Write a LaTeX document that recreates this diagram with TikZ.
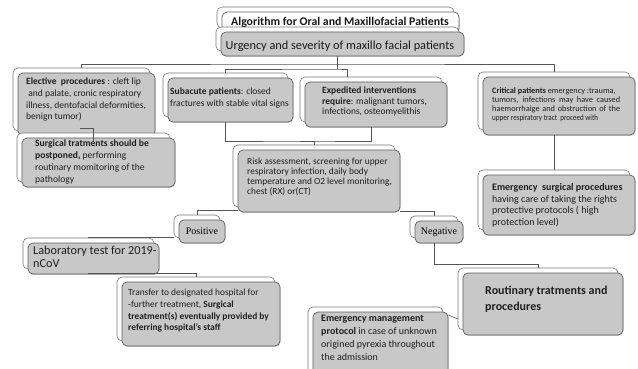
\documentclass[tikz,border=0pt]{standalone}
\usepackage{fontspec}
\usepackage{graphicx}
\setmainfont{Carlito}
\newfontfamily\timesf{Liberation Serif}
\usetikzlibrary{fit,calc,shadows}
\definecolor{boxgray}{RGB}{200,200,200}
\definecolor{edgegray}{RGB}{95,95,95}
\definecolor{backedge}{RGB}{120,120,120}
\definecolor{linegray}{RGB}{85,85,85}
\newcommand\twobox[6][]{%
  \node[backbox, fit={(#3-5,#4-5) (#5-5,#6-5)}] (#2b) {};
  \node[frontbox,#1, fit={(#3,#4) (#5,#6)}] (#2) {};
}
\begin{document}
\begin{tikzpicture}[x=1pt,y=-1pt,
 backbox/.style={draw=backedge, fill=white, rounded corners=5pt, line width=0.6pt, inner sep=0pt},
 frontbox/.style={draw=edgegray, fill=boxgray, rounded corners=5pt, line width=0.7pt, inner sep=0pt,
   drop shadow={shadow xshift=0.6pt, shadow yshift=-0.9pt, opacity=0.35}},
 conn/.style={draw=linegray, line width=0.6pt},
 txt/.style={anchor=north west, inner sep=0pt, align=left, text=black!88},
]
\useasboundingbox (0,0) rectangle (638,369);

% bus coordinates
\coordinate (busA) at (337,64);
\coordinate (busB) at (337,69);
\coordinate (busC) at (300,141);

% boxes
\twobox[fill=white]{tt}{222}{12}{459}{33}
\twobox{urg}{221}{32}{464}{56}
\twobox{el}{18}{73}{155}{136}
\twobox{sg}{22}{138}{175}{187}
\twobox{sb}{168}{78}{293}{122}
\twobox{ex}{305}{82}{447}{127}
\twobox{cr}{483}{77}{635}{135}
\twobox{es}{483}{175}{635}{235}
\twobox{rk}{238}{150}{400}{212}
\twobox{ps}{179}{220}{225}{243}
\twobox{ng}{415}{221}{463}{243}
\twobox{lb}{28}{243}{159}{274}
\twobox{tr}{122}{282}{280}{346}
\twobox{rt}{463}{273}{623}{335}
\twobox{em}{313}{312}{448}{382}

% connectors
\draw[conn] (urg.south -| busA) -- (busA);
\draw[conn] (elb.north) |- (busA) -| (crb.north);
\draw[conn] (busA) -- (busB);
\draw[conn] (sbb.north) |- (busB) -| (exb.north -| 347,0);
\draw[conn] (sb.south -| sbb.north) |- (busC) -| (ex.south -| exb.north);
\draw[conn] (busC) -| (rkb.north);
\draw[conn] (80,128) -| (sgb.north |- 0,142);
\draw[conn] (crb.south |- cr.south) -- (esb.north);
\draw[conn] (psb.north) |- (rk.west |- 0,210);
\draw[conn] (ngb.north) |- (rk.east |- 0,211);
\draw[conn] (psb.west |- 0,237) -| (lbb.north);
\draw[conn] (lb.south -| lbb.north) |- (0,273 -| trb.north) -- (trb.north);
\draw[conn] (ng.south -| ngb.north) |- (0,264 -| rtb.north) -- (rtb.north);
\draw[conn] (em.east |- 0,315) -- (rtb.west |- 0,319);

% texts
\node[font=\bfseries\fontsize{11.8}{14}\selectfont, text=black!90, inner sep=0pt] (ttx) at (340,22) {Algorithm for Oral and Maxillofacial Patients};
\node[font=\fontsize{12.3}{14}\selectfont, text=black!90, inner sep=0pt] (urgx) at (340,46) {Urgency and severity of maxillo facial patients};

\node[txt, font=\fontsize{9.5}{11.7}\selectfont] (elx) at (26,78) {\textbf{Elective\ \ procedures} : cleft lip\\\ and palate, cronic respiratory\\illness, dentofacial deformities,\\benign tumor)};
\node[txt, font=\fontsize{9.6}{11.7}\selectfont] (sgx) at (35,140) {\textbf{Surgical tratments should be}\\\textbf{postponed,} performing\\routinary momitoring of the\\pathology};
\node[txt, font=\fontsize{9.5}{12}\selectfont] (sbx) at (170,88) {\textbf{Subacute patients}: closed\\fractures with stable vital signs};
\node[txt, font=\fontsize{9.5}{10.3}\selectfont] (exx) at (322,87) {\textbf{Expedited interventions}\\\textbf{require}: malignant tumors,\\infections, osteomyelithis};
\node[txt, font=\fontsize{8.3}{9.3}\selectfont] (crx) at (492,87) {\textbf{Critical patients} emergency :trauma,\\\makebox[128pt][s]{tumors, infections may have caused}\\\makebox[128pt][s]{haemorrhaige and obstruction of the}\\\scalebox{0.85}[1]{upper respiratory tract\ \ proceed with}};
\node[txt, font=\fontsize{10}{11.8}\selectfont] (esx) at (492,183) {\textbf{Emergency\ \ surgical procedures}\\having care of taking the rights\\protective protocols ( high\\protection level)};
\node[txt, font=\fontsize{9.4}{10}\selectfont] (rkx) at (247,158) {Risk assessment, screening for upper\\respiratory infection, daily body\\temperature and O2 level monitoring,\\chest (RX) or(CT)};
\node[font=\timesf\fontsize{10}{12}\selectfont, inner sep=0pt] (psx) at (202,231) {Positive};
\node[font=\timesf\fontsize{10}{12}\selectfont, inner sep=0pt] (ngx) at (439,232) {Negative};
\node[txt, font=\fontsize{12.2}{13}\selectfont] (lbx) at (33,246) {Laboratory test for 2019-\\nCoV};
\node[txt, font=\fontsize{9.4}{11.7}\selectfont] (trx) at (128,289) {Transfer to designated hospital for\\-further treatment, \textbf{Surgical}\\\textbf{treatment(s) eventually provided by}\\\textbf{referring hospital’s staff}};
\node[txt, font=\bfseries\fontsize{12}{16}\selectfont] (rtx) at (485,286) {Routinary tratments and\\procedures};
\node[txt, font=\fontsize{10}{13}\selectfont] (emx) at (321,315) {\textbf{Emergency management}\\\textbf{protocol} in case of unknown\\origined pyrexia throughout\\the admission};
\end{tikzpicture}
\end{document}
